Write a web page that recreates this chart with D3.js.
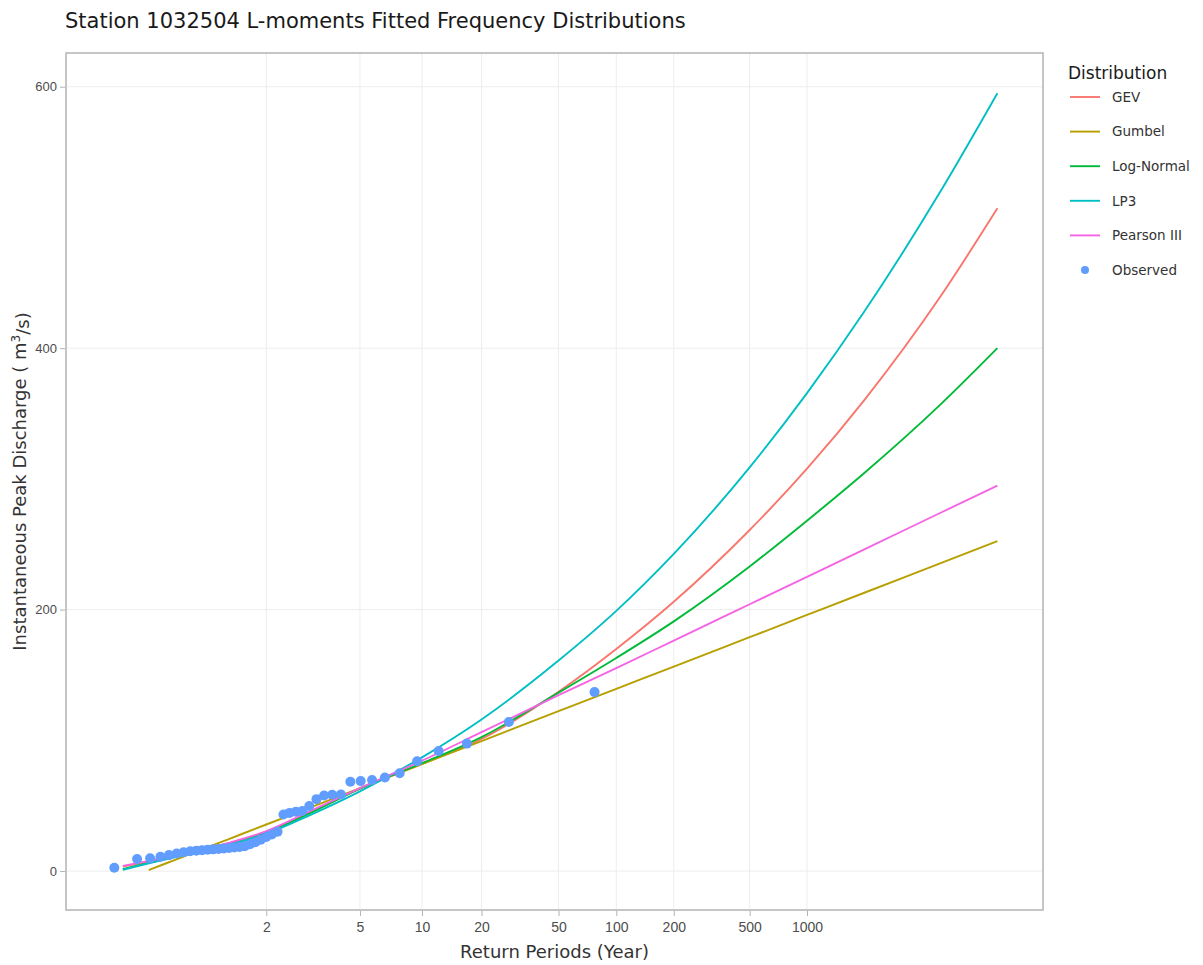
<!DOCTYPE html>
<html>
<head>
<meta charset="utf-8">
<script src="https://cdn.jsdelivr.net/npm/d3@7"></script>
<style>
  body { margin: 0; background: #fff; }
  svg { font-family: "DejaVu Sans", Verdana, sans-serif; }
</style>
</head>
<body>
<div id="chart"></div>
<script>
// Return periods (years) shown on the x axis
const tickT = [2, 5, 10, 20, 50, 100, 200, 500, 1000];
const yTicks = [0, 200, 400, 600];

// Fitted quantiles
const curveT = [1.02, 1.05, 1.1, 1.2, 1.5, 2, 3, 5, 10, 20, 50, 100, 200, 500, 1000, 2000, 5000, 10000];
const gevQ   = [3.5, 6.5, 9.5, 13.5, 21, 30, 45, 63, 82, 101, 137.2, 169.9, 206, 260.9, 307.8, 360.3, 439.1, 507];
const lnQ    = [1.5, 5.5, 9, 13.5, 21, 29.5, 44.5, 63, 82.5, 102.5, 136.5, 163, 191, 233, 268, 304.5, 356.6, 400];
const lp3Q   = [1, 5, 8.5, 13, 20, 28.5, 43, 61, 87, 116, 161, 199, 242.6, 308.8, 365.6, 428, 519.4, 595];
const p3Q    = [4, 7, 10, 14, 21.5, 30.5, 46, 63.5, 84.4, 106.2, 134.5, 155.2, 176.3, 204.1, 225.1, 246.1, 273.9, 294.9];

const gumbelT = [1.06, 1.1, 1.2, 1.5, 2, 3, 5, 10, 20, 50, 100, 200, 500, 1000, 2000, 5000, 10000];
const gumbelQ = [0.7, 5.2, 12.3, 24.3, 35.6, 48.7, 63.4, 81.8, 99.4, 122.3, 139.4, 156.4, 178.9, 195.9, 212.9, 235.4, 252.4];

// Observed annual peaks with their plotting-position return periods
const obsT = [77.0, 27.64, 16.84, 12.11, 9.456, 7.755, 6.573, 5.704, 5.037, 4.510, 4.083, 3.730, 3.433, 3.180,
  2.962, 2.771, 2.604, 2.456, 2.323, 2.204, 2.097, 2.000, 1.911, 1.830, 1.756, 1.687, 1.624, 1.565, 1.510,
  1.459, 1.411, 1.366, 1.324, 1.285, 1.248, 1.213, 1.179, 1.148, 1.118, 1.090, 1.063, 1.038, 1.013];
const obsQ = [136.9, 114.0, 97.5, 91.8, 84.0, 74.8, 71.5, 69.6, 68.8, 68.3, 58.6, 58.4, 57.8, 55.0,
  49.7, 46.0, 45.4, 44.5, 43.2, 30.0, 28.0, 26.0, 24.0, 22.0, 20.5, 19.0, 18.4, 18.0, 17.6,
  17.2, 16.9, 16.6, 16.3, 16.0, 15.6, 15.1, 14.4, 13.4, 12.2, 11.0, 9.7, 9.2, 2.5];

const series = [
  { name: "GEV",         color: "#F8766D", T: curveT,  Q: gevQ },
  { name: "Gumbel",      color: "#B79F00", T: gumbelT, Q: gumbelQ },
  { name: "Log-Normal",  color: "#00BA38", T: curveT,  Q: lnQ },
  { name: "LP3",         color: "#00BFC4", T: curveT,  Q: lp3Q },
  { name: "Pearson III", color: "#F564E3", T: curveT,  Q: p3Q }
];
const obsColor = "#619CFF";

const width = 1203, height = 965;
const margin = { left: 66, right: 160, top: 53, bottom: 55 };

// gumbel reduced variate for the probability axis
const gv = T => -Math.log(-Math.log(1 - 1 / T));

const svg = d3.select("#chart").append("svg")
  .attr("width", width)
  .attr("height", height);

const x = d3.scaleLinear()
  .domain([-2.056, 9.762])
  .range([margin.left, width - margin.right]);

const y = d3.scaleLinear()
  .domain([-29.8, 625.8])
  .range([height - margin.bottom, margin.top]);

// grid
const grid = svg.append("g");
grid.selectAll(".gx").data(tickT).enter().append("line")
  .attr("x1", d => x(gv(d))).attr("x2", d => x(gv(d)))
  .attr("y1", y.range()[0]).attr("y2", y.range()[1])
  .attr("stroke", "#ededed").attr("stroke-width", 1);
grid.selectAll(".gy").data(yTicks).enter().append("line")
  .attr("x1", x.range()[0]).attr("x2", x.range()[1])
  .attr("y1", d => y(d)).attr("y2", d => y(d))
  .attr("stroke", "#ededed").attr("stroke-width", 1);

// fitted curves
const line = d3.line()
  .x(d => x(gv(d[0])))
  .y(d => y(d[1]))
  .curve(d3.curveMonotoneX);

svg.append("g").selectAll("path").data(series).enter().append("path")
  .attr("d", s => line(s.T.map((t, i) => [t, s.Q[i]])))
  .attr("fill", "none")
  .attr("stroke", s => s.color)
  .attr("stroke-width", 1.9);

// observed points
svg.append("g").selectAll("circle").data(obsT).enter().append("circle")
  .attr("cx", d => x(gv(d)))
  .attr("cy", (d, i) => y(obsQ[i]))
  .attr("r", 5)
  .attr("fill", obsColor);

// panel border
svg.append("rect")
  .attr("x", x.range()[0]).attr("y", y.range()[1])
  .attr("width", x.range()[1] - x.range()[0])
  .attr("height", y.range()[0] - y.range()[1])
  .attr("fill", "none")
  .attr("stroke", "#b3b3b3")
  .attr("stroke-width", 1.5);

// axes
const xAxis = d3.axisBottom(x)
  .tickValues(tickT.map(gv))
  .tickFormat((d, i) => tickT[i])
  .tickSize(5).tickSizeOuter(0);
const gx = svg.append("g")
  .attr("transform", `translate(0,${y.range()[0] + 1})`)
  .call(xAxis);
gx.select(".domain").remove();
gx.selectAll(".tick line").attr("stroke", "#b3b3b3");
gx.selectAll(".tick text").attr("fill", "#4d4d4d").style("font-size", "14px").attr("dy", "0.9em");

const yAxis = d3.axisLeft(y).tickValues(yTicks).tickSize(5).tickSizeOuter(0);
const gy = svg.append("g")
  .attr("transform", `translate(${x.range()[0] - 1},0)`)
  .call(yAxis);
gy.select(".domain").remove();
gy.selectAll(".tick line").attr("stroke", "#b3b3b3");
gy.selectAll(".tick text").attr("fill", "#4d4d4d").style("font-size", "13px");

// titles
svg.append("text")
  .attr("x", 65).attr("y", 28)
  .style("font-size", "21px").attr("fill", "#1a1a1a")
  .text("Station 1032504 L-moments Fitted Frequency Distributions");

svg.append("text")
  .attr("x", (x.range()[0] + x.range()[1]) / 2).attr("y", 958)
  .attr("text-anchor", "middle")
  .style("font-size", "18px").attr("fill", "#333")
  .text("Return Periods (Year)");

const yt = svg.append("text")
  .attr("transform", `translate(26,${(y.range()[0] + y.range()[1]) / 2}) rotate(-90)`)
  .attr("text-anchor", "middle")
  .style("font-size", "18px").attr("fill", "#333");
yt.append("tspan").text("Instantaneous Peak Discharge ( m");
yt.append("tspan").attr("dy", "-0.5em").style("font-size", "12px").text("3");
yt.append("tspan").attr("dy", "0.5em").text("/s)");

// legend
const legend = svg.append("g").attr("transform", "translate(1068,0)");
legend.append("text")
  .attr("x", 0).attr("y", 79)
  .style("font-size", "17px").attr("fill", "#1a1a1a")
  .text("Distribution");

const items = series.map(s => ({ name: s.name, color: s.color, kind: "line" }))
  .concat([{ name: "Observed", color: obsColor, kind: "point" }]);

const li = legend.selectAll(".li").data(items).enter().append("g")
  .attr("transform", (d, i) => `translate(0,${97 + i * 34.6})`);
li.filter(d => d.kind === "line").append("line")
  .attr("x1", 2).attr("x2", 32)
  .attr("stroke", d => d.color).attr("stroke-width", 1.9);
li.filter(d => d.kind === "point").append("circle")
  .attr("cx", 17).attr("r", 4)
  .attr("fill", d => d.color);
li.append("text")
  .attr("x", 44).attr("dy", "0.35em")
  .style("font-size", "13.5px").attr("fill", "#333")
  .text(d => d.name);
</script>
</body>
</html>
